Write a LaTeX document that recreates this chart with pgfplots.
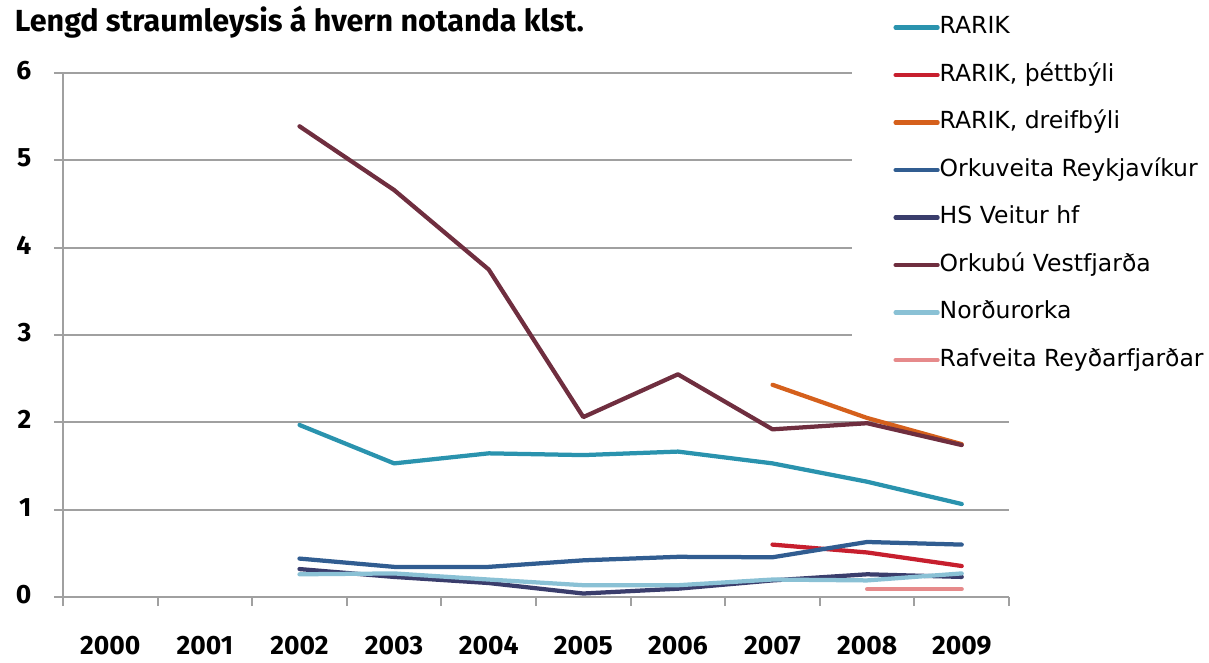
\documentclass[border=0pt]{standalone}
\usepackage{fontspec}
\setmainfont{DejaVu Sans}
\newfontfamily\titlefont{Fira Sans}
\usepackage{pgfplots}
\pgfplotsset{compat=1.18}

\definecolor{gridgray}{HTML}{A0A0A0}
\definecolor{cRarik}{HTML}{2A93AE}
\definecolor{cThett}{HTML}{C71F2E}
\definecolor{cDreif}{HTML}{D5601C}
\definecolor{cOR}{HTML}{315D91}
\definecolor{cHS}{HTML}{3A3D6C}
\definecolor{cOV}{HTML}{6F2E3F}
\definecolor{cNO}{HTML}{8AC1D5}
\definecolor{cRR}{HTML}{E68A8B}

\begin{document}
\begin{tikzpicture}
\useasboundingbox (-25.2pt,-26pt) rectangle (458.4pt,238.8pt);
\begin{axis}[
    scale only axis, width=378.4pt, height=209.6pt,
    xmin=-0.5, xmax=9.5, ymin=0, ymax=6,
    axis x line*=bottom, axis y line*=left,
    axis line style={draw=gridgray, line width=0.8pt, -},
    xtick={-0.5,0.5,...,9.5},
    x tick label as interval,
    xticklabels={2000,2001,2002,2003,2004,2005,2006,2007,2008,2009},
    ytick={0,...,6},
    tick align=outside,
    major tick length=3.6pt,
    every tick/.style={gridgray, line width=0.8pt},
    ymajorgrids, major grid style={gridgray, line width=0.8pt},
    tick label style={font=\titlefont\bfseries\fontsize{10.6}{12}\selectfont},
    /pgf/number format/assume math mode=true,
    yticklabel style={xshift=-5.5pt, yshift=1pt},
    xticklabel style={yshift=-8.6pt},
    legend cell align=left,
    legend style={at={(axis description cs:0.834,1.1393)}, anchor=north west,
        fill=white, draw=none, inner xsep=16.4pt, inner ysep=6.2pt,
        font=\fontsize{9.4}{11}\selectfont, row sep=9.8pt,
        nodes={text height=7pt, text depth=2.2pt, inner ysep=0pt, inner xsep=0pt}},
    legend image code/.code={\draw[#1] (0pt,0pt) -- (16.8pt,0pt);},
    every axis plot/.append style={line width=1.7pt, line join=round, line cap=round},
]
\addplot[cRarik] coordinates {(2,1.97)(3,1.53)(4,1.645)(5,1.625)(6,1.665)(7,1.53)(8,1.32)(9,1.065)};
\addplot[cThett] coordinates {(7,0.60)(8,0.51)(9,0.355)};
\addplot[cDreif] coordinates {(7,2.43)(8,2.05)(9,1.75)};
\addplot[cOR] coordinates {(2,0.44)(3,0.345)(4,0.345)(5,0.42)(6,0.46)(7,0.455)(8,0.63)(9,0.60)};
\addplot[cHS] coordinates {(2,0.32)(3,0.23)(4,0.16)(5,0.04)(6,0.095)(7,0.19)(8,0.26)(9,0.23)};
\addplot[cOV] coordinates {(2,5.39)(3,4.66)(4,3.75)(5,2.06)(6,2.55)(7,1.92)(8,1.99)(9,1.74)};
\addplot[cNO] coordinates {(2,0.26)(3,0.27)(4,0.20)(5,0.135)(6,0.135)(7,0.20)(8,0.19)(9,0.27)};
\addplot[cRR] coordinates {(8,0.09)(9,0.09)};
\legend{RARIK, {RARIK, þéttbýli}, {RARIK, dreifbýli}, Orkuveita Reykjavíkur, HS Veitur hf, Orkubú Vestfjarða, Norðurorka, Rafveita Reyðarfjarðar}
\end{axis}
\node[anchor=base west, inner sep=0pt, font=\titlefont\bfseries\fontsize{12.2}{14}\selectfont] at (-19.4pt,226pt) {Lengd straumleysis á hvern notanda klst.};
\end{tikzpicture}
\end{document}
